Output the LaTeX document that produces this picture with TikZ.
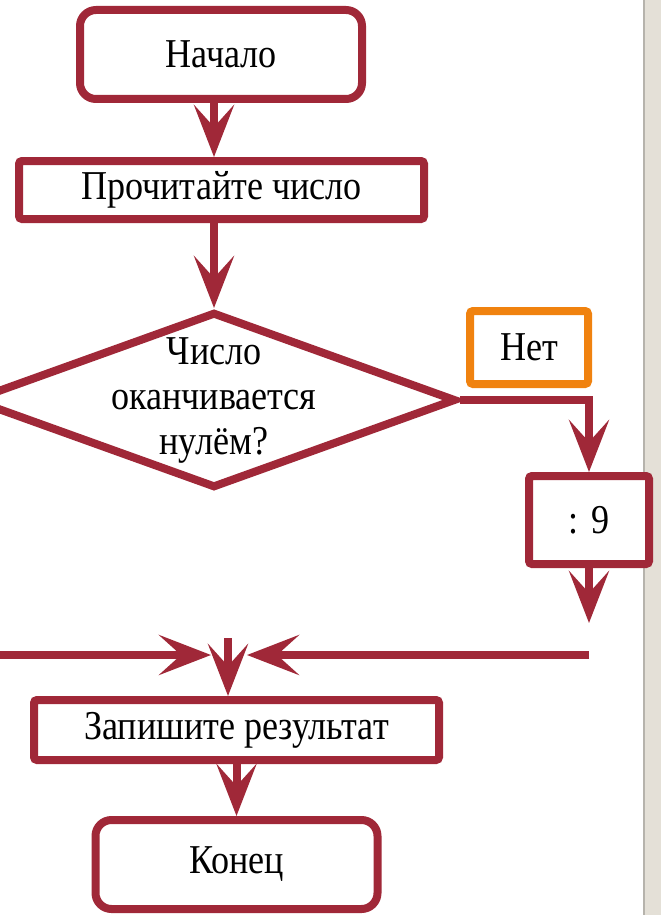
\documentclass[tikz,border=0pt]{standalone}
\usepackage{fontspec}
\setmainfont[FakeStretch=0.88]{Liberation Serif}
\usetikzlibrary{shapes.geometric,arrows.meta}

\definecolor{flowred}{RGB}{160,40,56}
\definecolor{flowamber}{RGB}{240,130,15}
\definecolor{sidebar}{RGB}{228,224,215}

\begin{document}
\begin{tikzpicture}[x=1pt,y=-1pt,
    >={Stealth[length=52pt,width=40pt,inset=22pt]},
    every node/.style={font=\fontsize{41}{45}\selectfont},
    terminal/.style={rectangle,draw=flowred,line width=8pt,rounded corners=16pt,fill=white,minimum width=282pt,minimum height=89pt},
    process/.style={rectangle,draw=flowred,line width=8pt,rounded corners=3pt,fill=white,minimum height=58pt},
    decision/.style={diamond,draw=flowred,line width=8pt,fill=white,inner sep=0pt,minimum width=484pt,minimum height=176pt},
    answer/.style={rectangle,draw=flowamber,line width=8pt,rounded corners=3pt,fill=white,minimum width=118pt,minimum height=73pt},
    flow/.style={->,draw=flowred,line width=8pt}]
    \clip (0,0) rectangle (661,915);
    \fill[white] (0,0) rectangle (661,915);

    % Side bar
    \fill[sidebar] (643,0) rectangle (661,915);
    \draw[sidebar!80!black,line width=1.5pt] (643.75,0) -- (643.75,915);

    % Start
    \node[terminal] (start) at (221,54.5) {Начало};

    % Read the number
    \node[process,minimum width=405pt] (read) at (221.5,190) {Прочитайте число};

    % Ends with zero?
    \node[decision] (cond) at (214,400) {\makebox[0pt]{\begin{tabular}{@{}c@{}}Число\\оканчивается\\нулём?\end{tabular}}};

    % No branch
    \node[answer] (no) at (529,347.5) {Нет};
    \node[process,minimum width=120pt,minimum height=88pt] (nine) at (589,520) {: 9};

    % Write and stop
    \node[process,minimum width=405pt,minimum height=60pt] (write) at (236.5,730) {Запишите результат};
    \node[terminal] (stop) at (236.5,864.5) {Конец};

    % Connectors
    \draw[flow] (start.south -| cond.north) -- (read.north -| cond.north);
    \draw[flow] (read.south -| cond.north) -- (cond.north);
    \draw[flow] (cond.east) -| (nine.north);
    \coordinate (nineout) at (589,623);
    \draw[flow] (nine.south) -- (nineout);

    % Merge
    \coordinate (joinL) at (0,655);
    \coordinate (joinR) at (589,655);
    \coordinate (tipL) at (211,655);
    \coordinate (tipR) at (247,655);
    \coordinate (joinT) at (228,638);
    \draw[flow] (joinL) -- (tipL);
    \draw[flow] (joinR) -- (tipR);
    \draw[flow] (joinT) -- (joinT |- write.north);
    \draw[flow] (write.south) -- (stop.north);
\end{tikzpicture}
\end{document}
